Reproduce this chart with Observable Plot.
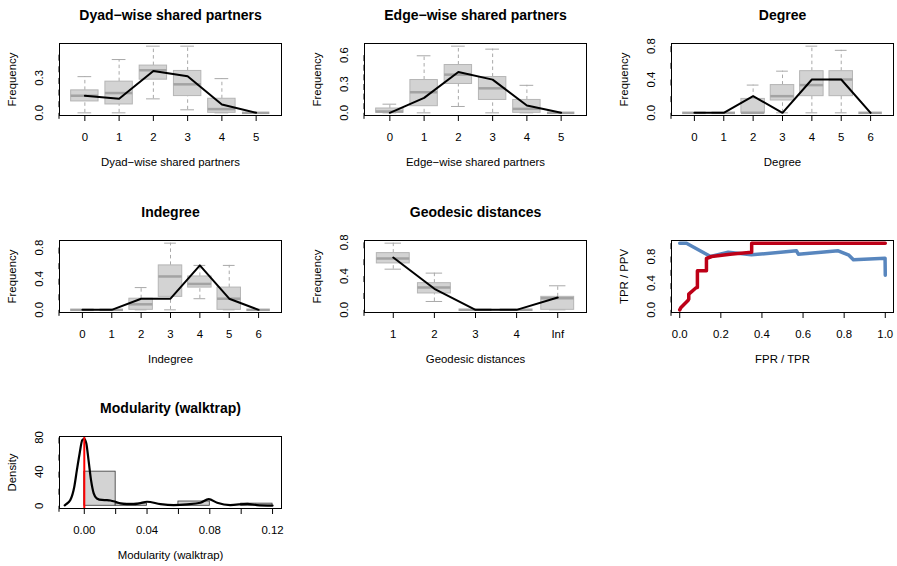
<!DOCTYPE html>
<html><head><meta charset="utf-8">
<script src="https://cdn.jsdelivr.net/npm/d3@7"></script>
<script src="https://cdn.jsdelivr.net/npm/@observablehq/plot@0.6"></script>
<style>
html,body{margin:0;padding:0;background:#fff;overflow:hidden}
#root{position:relative;width:897px;height:566px;background:#fff;overflow:hidden}
</style></head><body><div id="root"></div>
<script>
// ---------- data ----------
// Dyad-wise shared partners
const dspLabels = ["0","1","2","3","4","5"];
const dspLo  = [0, 0, 0.12, 0.026, 0, 0];
const dspQ1  = [0.098, 0.072, 0.285, 0.144, 0, 0];
const dspMed = [0.147, 0.17, 0.366, 0.245, 0.032, 0];
const dspQ3  = [0.193, 0.268, 0.406, 0.36, 0.121, 0];
const dspHi  = [0.311, 0.458, 0.573, 0.573, 0.294, 0];
const dspObs = [0.147, 0.121, 0.36, 0.314, 0.072, 0];
const dspYTicks = [0, 0.1, 0.2, 0.3, 0.4, 0.5];
const dspYLabels = ["0.0", "", "", "0.3", "", ""];

// Edge-wise shared partners
const espLabels = ["0","1","2","3","4","5"];
const espLo  = [0, 0, 0.066, 0, 0, 0];
const espQ1  = [0, 0.069, 0.3, 0.134, 0, 0];
const espMed = [0.014, 0.214, 0.397, 0.255, 0.041, 0];
const espQ3  = [0.045, 0.341, 0.497, 0.372, 0.134, 0];
const espHi  = [0.09, 0.593, 0.693, 0.662, 0.286, 0];
const espObs = [0, 0.155, 0.424, 0.345, 0.076, 0];
const espYTicks = [0, 0.1, 0.2, 0.3, 0.4, 0.5, 0.6];
const espYLabels = ["0.0", "", "", "0.3", "", "", "0.6"];

// Degree
const degLabels = ["0","1","2","3","4","5","6"];
const degLo  = [0, 0, 0, 0, 0, 0, 0];
const degQ1  = [0, 0, 0, 0.148, 0.2, 0.2, 0];
const degMed = [0, 0, 0, 0.2, 0.333, 0.4, 0];
const degQ3  = [0, 0, 0.167, 0.333, 0.5, 0.5, 0];
const degHi  = [0, 0, 0.333, 0.5, 0.8, 0.75, 0];
const degObs = [0, 0, 0.2, 0, 0.4, 0.4, 0];
const degYTicks = [0, 0.2, 0.4, 0.6, 0.8];
const degYLabels = ["0.0", "", "0.4", "", "0.8"];

// Indegree
const indLabels = ["0","1","2","3","4","5","6"];
const indLo  = [0, 0, 0, 0, 0.143, 0, 0];
const indQ1  = [0, 0, 0, 0.167, 0.286, 0, 0];
const indMed = [0, 0, 0.071, 0.429, 0.333, 0.143, 0];
const indQ3  = [0, 0, 0.143, 0.571, 0.429, 0.286, 0];
const indHi  = [0, 0, 0.286, 0.857, 0.571, 0.571, 0];
const indObs = [0, 0, 0.143, 0.143, 0.571, 0.143, 0];
const indYTicks = [0, 0.2, 0.4, 0.6, 0.8];
const indYLabels = ["0.0", "", "0.4", "", "0.8"];

// Geodesic distances
const geoLabels = ["1","2","3","4","Inf"];
const geoLo  = [0.482, 0.099, 0, 0, 0];
const geoQ1  = [0.55, 0.194, 0, 0, 0];
const geoMed = [0.609, 0.265, 0, 0, 0.138];
const geoQ3  = [0.672, 0.316, 0, 0, 0.154];
const geoHi  = [0.79, 0.435, 0, 0, 0.285];
const geoObs = [0.62, 0.249, 0, 0, 0.146];
const geoYTicks = [0, 0.2, 0.4, 0.6, 0.8];
const geoYLabels = ["0.0", "", "0.4", "", "0.8"];

// ROC (red) and PR (blue)
const rocX = [0, 0.005, 0.04, 0.044, 0.044, 0.081, 0.086, 0.086, 0.13, 0.13, 0.155, 0.245, 0.35, 0.35, 1];
const rocY = [0, 0.03, 0.14, 0.16, 0.235, 0.335, 0.335, 0.585, 0.585, 0.77, 0.8, 0.835, 0.865, 1, 1];
const prX = [0, 0.033, 0.15, 0.236, 0.349, 0.568, 0.577, 0.771, 0.823, 0.845, 0.999, 1];
const prY = [1, 1, 0.8, 0.865, 0.825, 0.885, 0.835, 0.885, 0.82, 0.75, 0.775, 0.52];
const rocXTicks = [0, 0.2, 0.4, 0.6, 0.8, 1];
const rocXLabels = ["0.0", "0.2", "0.4", "0.6", "0.8", "1.0"];
const rocYTicks = [0, 0.2, 0.4, 0.6, 0.8, 1];
const rocYLabels = ["0.0", "", "0.4", "", "0.8", ""];

// Modularity (walktrap)
const histX1 = [0, 0.02, 0.04, 0.06, 0.08, 0.10];
const histX2 = [0.02, 0.04, 0.06, 0.08, 0.10, 0.12];
const histDensity = [40, 2.5, 0, 5, 0, 2.5];
const kdeX = [-0.0125, -0.0115, -0.0089, -0.0064, -0.0047, -0.003, -0.0013, 0, 0.0013, 0.0027, 0.0043, 0.006, 0.008, 0.0113, 0.0145, 0.0166, 0.0198, 0.023, 0.0272, 0.0315, 0.035, 0.04, 0.0485, 0.057, 0.0655, 0.074, 0.0793, 0.0847, 0.093, 0.104, 0.11, 0.12];
const kdeY = [0.5, 2, 6.7, 22, 42, 61, 77, 78.5, 73, 53.5, 30, 14.5, 8.6, 6.8, 6.6, 6.2, 4.7, 2.8, 2, 2, 2.8, 4.7, 2, 0.8, 1.6, 3.5, 7.8, 3.5, 0.8, 2.3, 0.8, 0.2];
const modObs = [0];
const modXTicks = [0, 0.02, 0.04, 0.06, 0.08, 0.10, 0.12];
const modXLabels = ["0.00", "", "0.04", "", "0.08", "", "0.12"];
const modYTicks = [0, 20, 40, 60, 80];
const modYLabels = ["0", "", "40", "", "80"];

// ---------- layout ----------
const root = document.getElementById("root");
const colLeft = [59, 364, 670.5];
const rowTop = [43, 239.7, 436.4];
const ML = 59, MT = 43;
const common = {
  width: 286, height: 172,
  marginLeft: ML, marginRight: 5, marginTop: MT, marginBottom: 57,
  style: {fontFamily: "'Liberation Sans', Arial, Helvetica, sans-serif", fontSize: "11.4px", background: "transparent", color: "black", overflow: "visible"}
};
const WHISK = "#a9a9a9", BOXFILL = "#d3d3d3", BOXLINE = "#b5b5b5", MEDLINE = "#a3a3a3";

function place(svg, col, row) {
  svg.style.position = "absolute";
  svg.style.left = (colLeft[col] - ML) + "px";
  svg.style.top = (rowTop[row] - MT) + "px";
  root.appendChild(svg);
}

function labelMarks(title, xlab, ylab) {
  const m = [];
  if (title) m.push(Plot.text([title], {text: d => d, frameAnchor: "top", dy: -27.5, fontSize: 14, fontWeight: "bold", lineAnchor: "middle"}));
  m.push(Plot.text([xlab], {text: d => d, frameAnchor: "bottom", dy: 47, lineAnchor: "middle"}));
  m.push(Plot.text([ylab], {text: d => d, frameAnchor: "left", dx: -47, rotate: -90, textAnchor: "middle", lineAnchor: "middle"}));
  return m;
}

function yAxis(ticks, labels) {
  const fm = new Map(ticks.map((t, i) => [t, labels[i]]));
  return Plot.axisY({ticks, tickSize: 6, tickPadding: 14, tickFormat: d => fm.get(d) ?? "", rotate: -90, textAnchor: "middle", lineAnchor: "middle", label: null});
}
function xAxis(ticks, labels) {
  const fm = new Map(ticks.map((t, i) => [t, labels[i]]));
  return Plot.axisX({ticks, tickSize: 6, tickPadding: 11, tickFormat: d => fm.get(d) ?? "", label: null});
}

function boxPlot(o) {
  const n = o.labels.length;
  const rows = o.labels.map((l, i) => ({pos: i + 1, lab: l, lo: o.lo[i], q1: o.q1[i], med: o.med[i], q3: o.q3[i], hi: o.hi[i], obs: o.obs[i]}));
  const ymax = d3.max(rows, d => Math.max(d.hi, d.obs));
  return Plot.plot({
    ...common,
    x: {domain: [0.5 - 0.04 * n, n + 0.5 + 0.04 * n]},
    y: {domain: [-0.04 * ymax, 1.04 * ymax]},
    marks: [
      Plot.ruleX(rows, {x: "pos", y1: "q3", y2: "hi", stroke: WHISK, strokeDasharray: "3.5,3"}),
      Plot.ruleX(rows, {x: "pos", y1: "lo", y2: "q1", stroke: WHISK, strokeDasharray: "3.5,3"}),
      Plot.ruleY(rows, {y: "hi", x1: d => d.pos - 0.2, x2: d => d.pos + 0.2, stroke: WHISK}),
      Plot.ruleY(rows, {y: "lo", x1: d => d.pos - 0.2, x2: d => d.pos + 0.2, stroke: WHISK}),
      Plot.rect(rows, {x1: d => d.pos - 0.4, x2: d => d.pos + 0.4, y1: "q1", y2: "q3", fill: BOXFILL, stroke: BOXLINE}),
      Plot.ruleY(rows, {y: "med", x1: d => d.pos - 0.4, x2: d => d.pos + 0.4, stroke: MEDLINE, strokeWidth: 2.5}),
      Plot.line(rows, {x: "pos", y: "obs", stroke: "black", strokeWidth: 2}),
      Plot.frame({stroke: "black"}),
      yAxis(o.yTicks, o.yLabels),
      xAxis(rows.map(d => d.pos), rows.map(d => d.lab)),
      ...labelMarks(o.title, o.xlab, "Frequency")
    ]
  });
}

place(boxPlot({title: "Dyad\u2212wise shared partners", xlab: "Dyad\u2212wise shared partners", labels: dspLabels, lo: dspLo, q1: dspQ1, med: dspMed, q3: dspQ3, hi: dspHi, obs: dspObs, yTicks: dspYTicks, yLabels: dspYLabels}), 0, 0);
place(boxPlot({title: "Edge\u2212wise shared partners", xlab: "Edge\u2212wise shared partners", labels: espLabels, lo: espLo, q1: espQ1, med: espMed, q3: espQ3, hi: espHi, obs: espObs, yTicks: espYTicks, yLabels: espYLabels}), 1, 0);
place(boxPlot({title: "Degree", xlab: "Degree", labels: degLabels, lo: degLo, q1: degQ1, med: degMed, q3: degQ3, hi: degHi, obs: degObs, yTicks: degYTicks, yLabels: degYLabels}), 2, 0);
place(boxPlot({title: "Indegree", xlab: "Indegree", labels: indLabels, lo: indLo, q1: indQ1, med: indMed, q3: indQ3, hi: indHi, obs: indObs, yTicks: indYTicks, yLabels: indYLabels}), 0, 1);
place(boxPlot({title: "Geodesic distances", xlab: "Geodesic distances", labels: geoLabels, lo: geoLo, q1: geoQ1, med: geoMed, q3: geoQ3, hi: geoHi, obs: geoObs, yTicks: geoYTicks, yLabels: geoYLabels}), 1, 1);

// ROC / PR panel
const rocData = rocX.map((x, i) => ({x, y: rocY[i]}));
const prData = prX.map((x, i) => ({x, y: prY[i]}));
place(Plot.plot({
  ...common,
  x: {domain: [-0.04, 1.04]},
  y: {domain: [-0.04, 1.04]},
  marks: [
    Plot.line(prData, {x: "x", y: "y", stroke: "#5886be", strokeWidth: 3.5, strokeLinejoin: "round"}),
    Plot.line(rocData, {x: "x", y: "y", stroke: "#bd0017", strokeWidth: 3.5, strokeLinejoin: "round"}),
    Plot.frame({stroke: "black"}),
    yAxis(rocYTicks, rocYLabels),
    xAxis(rocXTicks, rocXLabels),
    ...labelMarks(null, "FPR / TPR", "TPR / PPV")
  ]
}), 2, 1);

// Modularity panel
const hist = histX1.map((x1, i) => ({x1, x2: histX2[i], d: histDensity[i]}));
const kde = kdeX.map((x, i) => ({x, y: kdeY[i]}));
place(Plot.plot({
  ...common,
  x: {domain: [-0.0158, 0.1257]},
  y: {domain: [-3.2, 81.2]},
  marks: [
    Plot.rect(hist, {x1: "x1", x2: "x2", y1: 0, y2: "d", fill: BOXFILL, stroke: "#333", strokeWidth: 0.8}),
    Plot.line(kde, {x: "x", y: "y", stroke: "black", strokeWidth: 2.2, curve: "monotone-x"}),
    Plot.ruleX(modObs, {x: d => d, stroke: "red", strokeWidth: 2}),
    Plot.frame({stroke: "black"}),
    yAxis(modYTicks, modYLabels),
    xAxis(modXTicks, modXLabels),
    ...labelMarks("Modularity (walktrap)", "Modularity (walktrap)", "Density")
  ]
}), 0, 2);
</script></body></html>
